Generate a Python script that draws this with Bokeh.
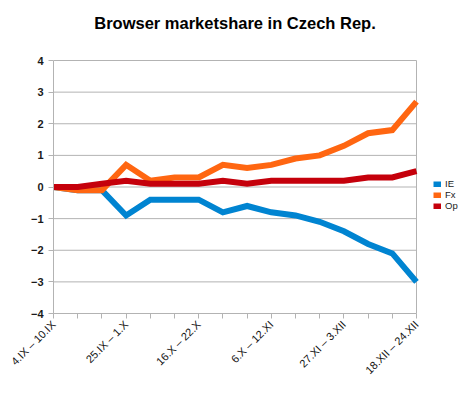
from bokeh.plotting import figure
from bokeh.models import Range1d, FixedTicker, Legend, LegendItem, Label
from bokeh.embed import file_html
from bokeh.resources import INLINE
import math

weeks = ["4.IX – 10.IX", "11.IX – 17.IX", "18.IX – 24.IX", "25.IX – 1.X",
         "2.X – 8.X", "9.X – 15.X", "16.X – 22.X", "23.X – 29.X",
         "30.X – 5.XI", "6.X – 12.XI", "13.XI – 19.XI", "20.XI – 26.XI",
         "27.XI – 3.XII", "4.XII – 10.XII", "11.XII – 17.XII", "18.XII – 24.XII"]
ie = [0, -0.1, -0.1, -0.9, -0.4, -0.4, -0.4, -0.8, -0.6, -0.8, -0.9, -1.1, -1.4, -1.8, -2.1, -3.0]
fx = [0, -0.1, -0.1, 0.7, 0.2, 0.3, 0.3, 0.7, 0.6, 0.7, 0.9, 1.0, 1.3, 1.7, 1.8, 2.7]
op = [0, 0, 0.1, 0.2, 0.1, 0.1, 0.1, 0.2, 0.1, 0.2, 0.2, 0.2, 0.2, 0.3, 0.3, 0.5]
series_names = ["IE", "Fx", "Op"]
colors = ["#0084d1", "#ff6611", "#c5000b"]
y_ticks = [-4, -3, -2, -1, 0, 1, 2, 3, 4]
label_every = 3
title_text = "Browser marketshare in Czech Rep."

xs = list(range(len(weeks)))
x0, x1 = 0, len(weeks) - 1
y0, y1 = y_ticks[0], y_ticks[-1]

# layout (pixels)
W, H = 464, 389
left, bottom = 53, 76
plot_w, plot_h = 363, 253          # data area
top_extra = H - bottom - plot_h     # space above data area, kept inside frame
right_extra = W - left - plot_w     # space right of data area, kept inside frame

xpu = plot_w / (x1 - x0)
ypu = plot_h / (y1 - y0)

p = figure(width=W, height=H, output_backend="svg", toolbar_location=None,
           x_range=Range1d(x0, x1 + right_extra / xpu),
           y_range=Range1d(y0, y1 + top_extra / ypu),
           min_border_left=left, min_border_right=0, min_border_top=0, min_border_bottom=bottom)
p.outline_line_color = None
p.background_fill_color = "white"
p.border_fill_color = "white"

font = "Liberation Sans"
gray = "#b3b3b3"
text_col = "#1a1a1a"

p.xgrid.visible = False
p.ygrid.visible = False
# horizontal grid lines across the data area only
p.segment(x0=[x0] * len(y_ticks), x1=[x1] * len(y_ticks), y0=y_ticks, y1=y_ticks,
          line_color=gray, line_width=1)
# right edge of data area
p.segment(x0=[x1], x1=[x1], y0=[y0], y1=[y1], line_color=gray, line_width=1)

p.yaxis.ticker = FixedTicker(ticks=y_ticks)
p.yaxis.bounds = (y0, y1)
p.yaxis.minor_tick_line_color = None
p.yaxis.axis_line_color = gray
p.yaxis.major_tick_line_color = gray
p.yaxis.major_tick_out = 5
p.yaxis.major_tick_in = 0
p.yaxis.major_label_text_font = font
p.yaxis.major_label_text_font_size = "11px"
p.yaxis.major_label_text_color = text_col
p.yaxis.major_label_text_font_style = "bold"
p.yaxis.major_label_standoff = 5

p.xaxis.ticker = FixedTicker(ticks=xs)
p.xaxis.bounds = (x0, x1)
p.xaxis.major_label_overrides = {i: (weeks[i] if i % label_every == 0 else "") for i in xs}
p.xaxis.minor_tick_line_color = None
p.xaxis.axis_line_color = gray
p.xaxis.major_tick_line_color = gray
p.xaxis.major_tick_out = 5
p.xaxis.major_tick_in = 0
p.xaxis.major_label_orientation = math.pi / 4
p.xaxis.major_label_text_font = font
p.xaxis.major_label_text_font_size = "11px"
p.xaxis.major_label_text_color = "#111111"
p.xaxis.major_label_standoff = 4

renderers = []
for ys, c in zip([ie, fx, op], colors):
    r = p.line(xs, ys, line_color=c, line_width=6, line_join="miter")
    renderers.append(r)

legend = Legend(items=[LegendItem(label=n, renderers=[r]) for n, r in zip(series_names, renderers)],
                location=(380, 102), orientation="vertical",
                label_text_font=font, label_text_font_size="9.5px", label_text_color=text_col,
                glyph_width=8, glyph_height=6, label_height=10, spacing=0, padding=0, margin=0,
                label_standoff=4, border_line_color=None, background_fill_alpha=0)
p.add_layout(legend, "center")

title = Label(x=(x0 + x1) / 2, y=y1 + (60 - 22) / ypu, text=title_text, text_align="center",
              text_baseline="alphabetic", text_font=font, text_font_size="16.5px",
              text_font_style="bold", text_color="black")
p.add_layout(title)

open("out.html", "w").write(file_html(p, INLINE))
